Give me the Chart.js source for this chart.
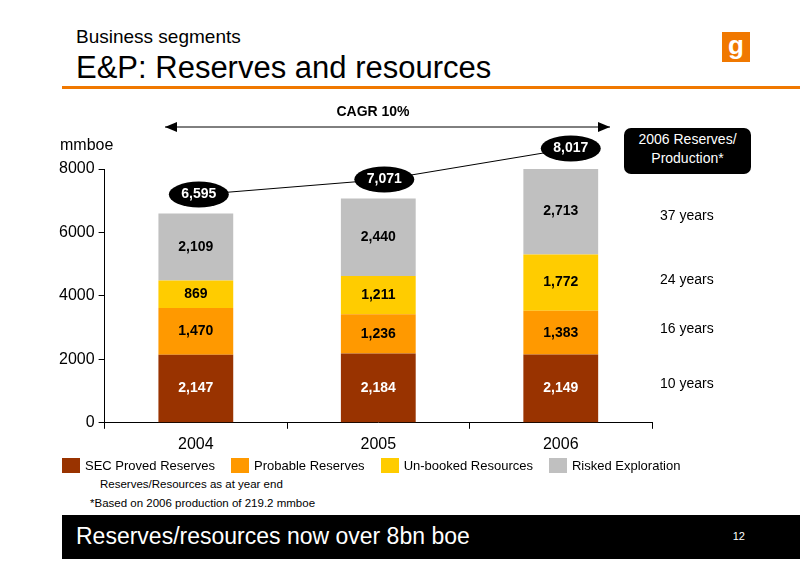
<!DOCTYPE html>
<html lang="en">
<head>
<meta charset="UTF-8">
<script src="https://cdn.jsdelivr.net/npm/chart.js@4.4.0/dist/chart.umd.min.js"></script>
<style>
    body { margin: 0; width: 800px; height: 565px; position: relative; font-family: "Liberation Sans", Arial, sans-serif; background: #fff; overflow: hidden; }
    .abs { position: absolute; }
    #sub { left: 76px; top: 26px; font-size: 19px; }
    #title { left: 76px; top: 50px; font-size: 31px; }
    #rule { left: 62px; top: 86px; width: 738px; height: 3px; background: #f07800; }
    #logo { left: 722px; top: 32px; width: 28px; height: 30px; background: #f07800; color: #fff; font-weight: bold; font-size: 26px; text-align: center; line-height: 26px; }
    #wrap { left: 0; top: 100px; width: 800px; height: 360px; }
    #box { left: 624px; top: 128px; width: 127px; height: 44px; background: #000; color: #fff; border-radius: 7px; font-size: 14px; text-align: center; line-height: 19px; padding-top: 2px; }
    .yrs { left: 660px; font-size: 14px; }
    #legend { left: 62px; top: 458px; font-size: 13px; display: flex; }
    #legend span { display: inline-flex; align-items: center; margin-right: 16px; }
    #legend i { display: inline-block; width: 18px; height: 15px; margin-right: 5px; }
    .note { left: 100px; font-size: 11.5px; }
    #foot { left: 62px; top: 515px; width: 738px; height: 44px; background: #000; color: #fff; }
    #foot b { position: absolute; left: 14px; top: 8px; font-weight: normal; font-size: 23px; }
    #foot small { position: absolute; right: 55px; top: 15px; font-size: 11px; }
</style>
</head>
<body>
<div id="sub" class="abs">Business segments</div>
<div id="title" class="abs">E&amp;P: Reserves and resources</div>
<div id="rule" class="abs"></div>
<div id="logo" class="abs">g</div>
<div id="wrap" class="abs"><canvas id="c"></canvas></div>
<div id="box" class="abs">2006 Reserves/<br>Production*</div>
<div class="abs yrs" style="top:207px">37 years</div>
<div class="abs yrs" style="top:271px">24 years</div>
<div class="abs yrs" style="top:320px">16 years</div>
<div class="abs yrs" style="top:375px">10 years</div>
<div id="legend" class="abs">
    <span><i style="background:#993300"></i>SEC Proved Reserves</span>
    <span><i style="background:#ff9900"></i>Probable Reserves</span>
    <span><i style="background:#ffcc00"></i>Un-booked Resources</span>
    <span><i style="background:#c0c0c0"></i>Risked Exploration</span>
</div>
<div class="abs note" style="top:478px">Reserves/Resources as at year end</div>
<div class="abs note" style="top:497px;left:90px">*Based on 2006 production of 219.2 mmboe</div>
<div id="foot" class="abs"><b>Reserves/resources now over 8bn boe</b><small>12</small></div>
<script>
const years = ['2004', '2005', '2006'];
const secProved = [2147, 2184, 2149];
const probable = [1470, 1236, 1383];
const unbooked = [869, 1211, 1772];
const risked = [2109, 2440, 2713];
const totals = [6595, 7071, 8017];
const colors = ['#993300', '#ff9900', '#ffcc00', '#c0c0c0'];
const labelColors = ['#fff', '#000', '#000', '#000'];

const annot = {
    id: 'annot',
    afterDatasetsDraw(chart) {
        const ctx = chart.ctx;
        ctx.save();
        ctx.font = 'bold 14px "Liberation Sans", Arial';
        ctx.textAlign = 'center';
        ctx.textBaseline = 'middle';
        chart.data.datasets.forEach((ds, i) => {
            chart.getDatasetMeta(i).data.forEach((bar, j) => {
                ctx.fillStyle = labelColors[i];
                ctx.fillText(ds.data[j].toLocaleString('en-US'), bar.x, (bar.y + bar.base) / 2);
            });
        });
        // total bubbles and connecting line
        const y = chart.scales.y;
        const meta = chart.getDatasetMeta(0).data;
        const pts = totals.map((t, j) => ({ x: meta[j].x + [3, 6, 10][j], y: y.getPixelForValue(t) + [-19, -19, -20][j] }));
        ctx.strokeStyle = '#000';
        ctx.lineWidth = 1;
        ctx.beginPath();
        pts.forEach((p, j) => j ? ctx.lineTo(p.x, p.y) : ctx.moveTo(p.x, p.y));
        ctx.stroke();
        pts.forEach((p, j) => {
            ctx.fillStyle = '#000';
            ctx.beginPath();
            ctx.ellipse(p.x, p.y, 30, 13, 0, 0, Math.PI * 2);
            ctx.fill();
            ctx.fillStyle = '#fff';
            ctx.fillText(totals[j].toLocaleString('en-US'), p.x, p.y);
        });
        // CAGR arrow
        const ay = 27, x0 = 165, x1 = 610;
        ctx.beginPath();
        ctx.moveTo(x0, ay); ctx.lineTo(x1, ay); ctx.stroke();
        ctx.fillStyle = '#000';
        [[x0, 1], [x1, -1]].forEach(([x, d]) => {
            ctx.beginPath();
            ctx.moveTo(x, ay); ctx.lineTo(x + d * 12, ay - 5); ctx.lineTo(x + d * 12, ay + 5); ctx.closePath(); ctx.fill();
        });
        ctx.fillText('CAGR 10%', 373, 12);
        ctx.restore();
    }
};

new Chart(document.getElementById('c'), {
    type: 'bar',
    data: {
        labels: years,
        datasets: [secProved, probable, unbooked, risked].map((d, i) => ({
            data: d, backgroundColor: colors[i], barPercentage: 0.41, categoryPercentage: 1
        }))
    },
    options: {
        responsive: true, maintainAspectRatio: false, animation: false,
        layout: { padding: { left: 55, right: 148, top: 69, bottom: 0 } },
        plugins: { legend: { display: false }, tooltip: { enabled: false } },
        scales: {
            x: { stacked: true, offset: true,
                 grid: { display: true, drawOnChartArea: false, offset: true, tickLength: 6, color: '#000' },
                 border: { color: '#000' },
                 ticks: { color: '#000', font: { size: 16 }, padding: 6 } },
            y: { stacked: true, min: 0, max: 8000,
                 grid: { display: true, drawOnChartArea: false, tickLength: 6, color: '#000' },
                 border: { color: '#000' },
                 ticks: { stepSize: 2000, color: '#000', font: { size: 16 }, padding: 4, callback: v => String(v) } }
        }
    },
    plugins: [annot, {
        id: 'unit',
        afterDraw(chart) {
            const ctx = chart.ctx;
            ctx.save();
            ctx.font = '16px "Liberation Sans", Arial';
            ctx.fillStyle = '#000';
            ctx.fillText('mmboe', 60, 50);
            ctx.restore();
        }
    }]
});
</script>
</body>
</html>
